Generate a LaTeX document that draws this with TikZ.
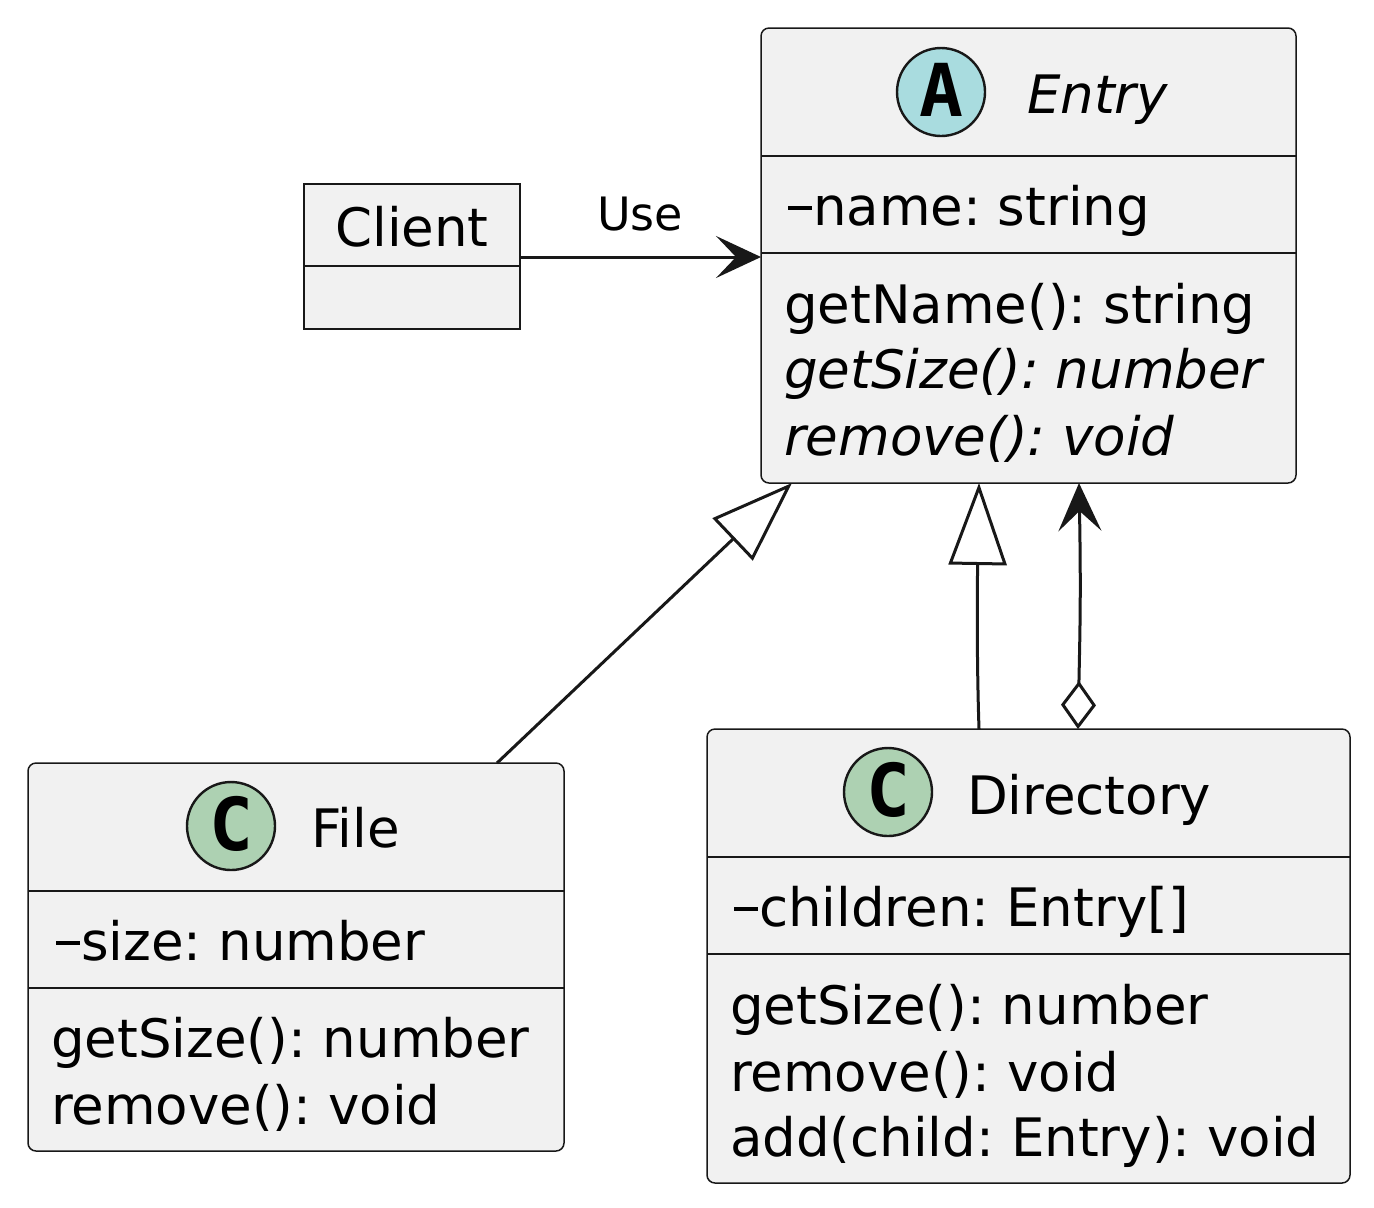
\documentclass[tikz,border=0pt]{standalone}
\usepackage{fontspec}
\setmainfont{DejaVu Sans}
\newfontfamily\circfont{DejaVu Sans Mono}
\usetikzlibrary{arrows.meta,calc}
\definecolor{boxfill}{HTML}{F1F1F1}
\definecolor{boxline}{HTML}{181818}
\definecolor{abscirc}{HTML}{A9DCDF}
\definecolor{clscirc}{HTML}{ADD1B2}
\newcommand\umldash{\rule[7.5pt]{12pt}{2pt}\hspace{0.5pt}}
\frenchspacing
\begin{document}
\begin{tikzpicture}[x=0.5pt,y=-0.5pt,
  umlbox/.style={draw=boxline, fill=boxfill, line width=0.75pt, rounded corners=4pt, inner sep=0, outer sep=0, anchor=north west},
  plainbox/.style={draw=boxline, fill=boxfill, line width=0.75pt, inner sep=0, outer sep=0, anchor=north west},
  divider/.style={draw=boxline, line width=0.6pt},
  txt/.style={inner sep=0, outer sep=0, anchor=base west, font=\fontsize{26.5pt}{33pt}\selectfont},
  itxt/.style={inner sep=0, outer sep=0, anchor=base west, font=\fontsize{26.5pt}{33pt}\selectfont\itshape},
  circ/.style={circle, draw=boxline, line width=1.2pt, minimum size=44pt, inner sep=0},
  circletter/.style={inner sep=0, outer sep=0, anchor=base, font=\fontsize{36.5pt}{36.5pt}\circfont\bfseries},
  conn/.style={draw=boxline, line width=1.5pt},
  filledhead/.style={-{Stealth[length=22.5pt,width=21pt,inset=10pt]}},
  genhead/.style={-{Triangle[open,length=41pt,width=29pt]}},
]
\useasboundingbox (0,0) rectangle (1374,1207);

% Client
\node[plainbox, minimum width=108pt, minimum height=72.5pt] (client) at (304,184) {};
\draw[divider] (client.north west |- 0,266) -- (client.north east |- 0,266);
\node[txt, anchor=base] (clientname) at (412,246) {Client};

% Entry
\node[umlbox, minimum width=267.5pt, minimum height=227.5pt] (entry) at (761,28) {};
\node[circ, fill=abscirc] (entrycirc) at (941,92) {};
\node[circletter] (entryletter) at (941,116) {A};
\node[itxt] (entryname) at (1027,113) {Entry};
\draw[divider] (entry.north west |- 0,156) -- (entry.north east |- 0,156);
\draw[divider] (entry.north west |- 0,253) -- (entry.north east |- 0,253);
\node[txt] (entryattr) at (788,225) {\umldash name: string};
\node[txt] (entrym1) at (784,323) {getName(): string};
\node[itxt] (entrym2) at (784,388) {getSize(): number};
\node[itxt] (entrym3) at (784,455) {remove(): void};

% File
\node[umlbox, minimum width=268pt, minimum height=194pt] (file) at (28,763) {};
\node[circ, fill=clscirc] (filecirc) at (231,826) {};
\node[circletter] (fileletter) at (231,850) {C};
\node[txt] (filename) at (311,847) {File};
\draw[divider] (file.north west |- 0,891) -- (file.north east |- 0,891);
\draw[divider] (file.north west |- 0,988) -- (file.north east |- 0,988);
\node[txt] (fileattr) at (56,960) {\umldash size: number};
\node[txt] (filem1) at (51,1057) {getSize(): number};
\node[txt] (filem2) at (51,1124) {remove(): void};

% Directory
\node[umlbox, minimum width=321.5pt, minimum height=227pt] (dir) at (707,729) {};
\node[circ, fill=clscirc] (dircirc) at (888,792) {};
\node[circletter] (dirletter) at (888,816) {C};
\node[txt] (dirname) at (967,814) {Directory};
\draw[divider] (dir.north west |- 0,857) -- (dir.north east |- 0,857);
\draw[divider] (dir.north west |- 0,954) -- (dir.north east |- 0,954);
\node[txt] (dirattr) at (734,926) {\umldash children: Entry[]};
\node[txt] (dirm1) at (730,1024) {getSize(): number};
\node[txt] (dirm2) at (730,1091) {remove(): void};
\node[txt] (dirm3) at (730,1156) {add(child: Entry): void};

% Connectors
\draw[conn, filledhead] ($(client.north east)+(0,73)$) -- ($(entry.north west)+(0,229)$);
\node[inner sep=0, anchor=base, font=\fontsize{23pt}{23pt}\selectfont] (uselabel) at (640,230) {Use};

\draw[conn, genhead] ($(file.north west)+(469,0)$) -- ($(entry.south west)+(31,0)$);

\draw[conn, genhead] ($(dir.north west)+(272,0)$) .. controls +(-2,-60) and +(-2,120) .. ($(entry.south west)+(218,0)$);

\draw[conn, {Diamond[open,length=24pt,width=17.5pt]}-{Stealth[length=24pt,width=21.5pt,inset=10pt]}]
  ($(dir.north west)+(371,0)$) .. controls +(2,-100) and +(2,110) .. ($(entry.south west)+(318,0)$);
\end{tikzpicture}
\end{document}
